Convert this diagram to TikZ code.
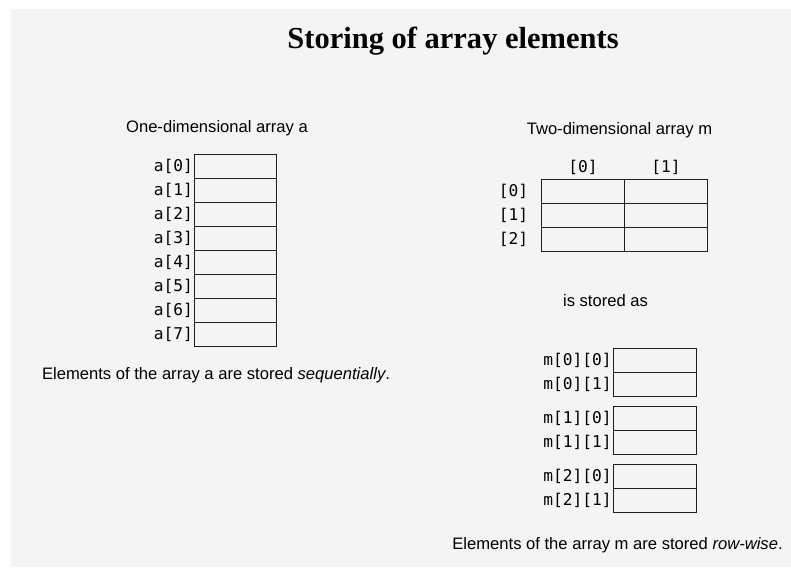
\documentclass[tikz,border=0pt]{standalone}
\usepackage{fontspec}
\setmainfont{Liberation Sans}
\newfontfamily\titlefont{Liberation Serif}
\newfontfamily\codefont{DejaVu Sans Mono}
\usepackage{tikz}
\usetikzlibrary{positioning}
\definecolor{pagegrey}{RGB}{244,244,244}
\definecolor{cellline}{RGB}{30,30,30}

\begin{document}
\begin{tikzpicture}[
    x=1pt, y=-1pt,
    node distance=0pt,
    cell/.style={
        rectangle, draw=cellline, line width=1pt,
        minimum width=82.5pt, minimum height=24pt,
        inner sep=0pt, outer sep=0pt
    },
    idx/.style={font=\codefont\fontsize{16.2}{18}\selectfont, inner sep=1.2pt},
    caption/.style={font=\fontsize{16.6}{19}\selectfont, inner sep=0pt}
]
\useasboundingbox (0,0) rectangle (791,567);
\fill[pagegrey] (11,9) rectangle (791,567);

\node[font=\titlefont\bfseries\fontsize{30.5}{36}\selectfont] (title) at (453,41) {Storing of array elements};

% one-dimensional array a
\node[caption] (capa) at (217,128) {One-dimensional array a};
\node[cell, label={[idx]left:{a[0]}}] (a0) at (235.5,166) {};
\node[cell, below=of a0, label={[idx]left:{a[1]}}] (a1) {};
\node[cell, below=of a1, label={[idx]left:{a[2]}}] (a2) {};
\node[cell, below=of a2, label={[idx]left:{a[3]}}] (a3) {};
\node[cell, below=of a3, label={[idx]left:{a[4]}}] (a4) {};
\node[cell, below=of a4, label={[idx]left:{a[5]}}] (a5) {};
\node[cell, below=of a5, label={[idx]left:{a[6]}}] (a6) {};
\node[cell, below=of a6, label={[idx]left:{a[7]}}] (a7) {};
\node[caption] (notea) at (216,375) {Elements of the array a are stored \textit{sequentially}.};

% two-dimensional array m
\node[caption] (capm) at (619.5,130) {Two-dimensional array m};
\node[cell, minimum width=83pt] (m00) at (583,191.3) {};
\node[cell, minimum width=83pt, right=of m00] (m01) {};
\node[cell, minimum width=83pt, below=of m00] (m10) {};
\node[cell, minimum width=83pt, right=of m10] (m11) {};
\node[cell, minimum width=83pt, below=of m10] (m20) {};
\node[cell, minimum width=83pt, right=of m20] (m21) {};
\node[idx, above=3pt of m00] (col0) {[0]};
\node[idx, above=3pt of m01] (col1) {[1]};
\node[idx, left=12pt of m00] (row0) {[0]};
\node[idx, left=12pt of m10] (row1) {[1]};
\node[idx, left=12pt of m20] (row2) {[2]};

\node[caption] (stored) at (605.5,300.5) {is stored as};

% m stored row by row
\node[cell, minimum width=83pt, label={[idx]left:{m[0][0]}}] (s00) at (654.5,360.3) {};
\node[cell, minimum width=83pt, below=of s00, label={[idx]left:{m[0][1]}}] (s01) {};
\node[cell, minimum width=83pt, below=10pt of s01, label={[idx]left:{m[1][0]}}] (s10) {};
\node[cell, minimum width=83pt, below=of s10, label={[idx]left:{m[1][1]}}] (s11) {};
\node[cell, minimum width=83pt, below=10pt of s11, label={[idx]left:{m[2][0]}}] (s20) {};
\node[cell, minimum width=83pt, below=of s20, label={[idx]left:{m[2][1]}}] (s21) {};
\node[caption] (notem) at (617.5,545) {Elements of the array m are stored \textit{row-wise}.};
\end{tikzpicture}
\end{document}
